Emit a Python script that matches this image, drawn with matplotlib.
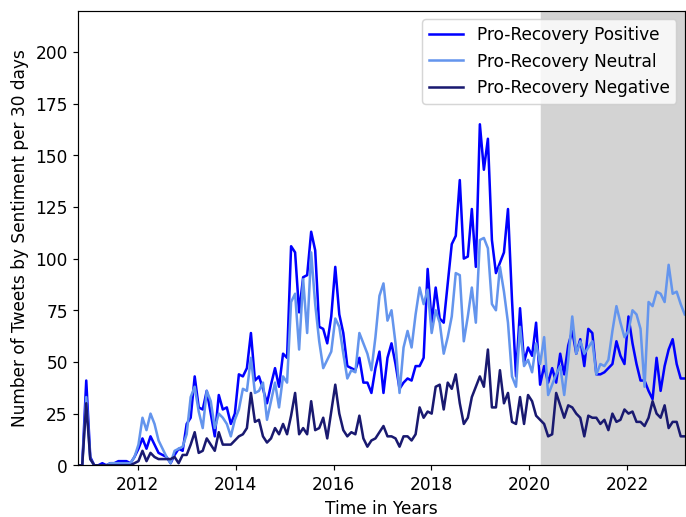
import numpy as np
import pandas as pd
import matplotlib
matplotlib.use("Agg")
import matplotlib.pyplot as plt
import matplotlib.dates as mdates

# tweet counts per 30-day bin, starting Oct 2010
START = "2010-10-12"
N_BINS = 152
RECOVERY_START = "2020-04-01"

positive = [
    0, 0, 41, 4, 0, 0, 1, 0, 1, 1,
    2, 2, 2, 1, 4, 8, 13, 8, 14, 10,
    6, 5, 4, 1, 5, 8, 7, 20, 23, 43,
    28, 27, 36, 25, 14, 34, 27, 28, 20, 25,
    44, 43, 47, 64, 41, 43, 37, 30, 39, 47,
    38, 54, 52, 106, 103, 74, 91, 92, 113, 104,
    67, 66, 59, 72, 96, 73, 64, 48, 47, 46,
    52, 40, 40, 35, 47, 55, 35, 52, 59, 49,
    37, 40, 42, 41, 48, 48, 52, 95, 69, 86,
    71, 69, 88, 107, 111, 138, 100, 101, 124, 96,
    165, 143, 158, 109, 93, 98, 103, 124, 80, 43,
    76, 50, 57, 53, 69, 39, 48, 40, 47, 40,
    54, 44, 58, 65, 54, 61, 48, 66, 64, 44,
    44, 45, 47, 49, 60, 53, 49, 72, 59, 49,
    41, 41, 36, 32, 52, 36, 48, 56, 61, 49,
    42, 42,
]

neutral = [
    0, 0, 33, 3, 0, 0, 0, 0, 1, 1,
    1, 1, 1, 1, 4, 10, 23, 17, 25, 20,
    12, 8, 4, 1, 7, 8, 9, 15, 33, 38,
    26, 18, 36, 31, 18, 25, 23, 20, 14, 22,
    27, 37, 36, 52, 35, 36, 40, 22, 31, 40,
    28, 43, 40, 79, 83, 56, 90, 64, 103, 78,
    60, 47, 51, 55, 71, 67, 54, 42, 46, 45,
    64, 59, 54, 46, 62, 82, 88, 70, 75, 59,
    35, 57, 65, 57, 73, 86, 78, 85, 64, 75,
    69, 54, 62, 72, 93, 92, 60, 72, 86, 69,
    109, 110, 105, 78, 75, 96, 84, 69, 43, 38,
    67, 48, 51, 45, 59, 49, 62, 34, 39, 44,
    48, 34, 51, 72, 54, 60, 54, 57, 60, 44,
    49, 48, 51, 65, 77, 69, 62, 65, 75, 73,
    66, 38, 79, 77, 84, 83, 79, 97, 83, 84,
    78, 73,
]

negative = [
    0, 0, 30, 3, 0, 0, 0, 0, 0, 0,
    0, 0, 0, 0, 1, 2, 7, 2, 6, 4,
    3, 3, 3, 3, 4, 1, 5, 5, 10, 16,
    6, 7, 13, 10, 7, 16, 10, 10, 10, 12,
    14, 15, 18, 35, 21, 22, 14, 11, 13, 18,
    15, 20, 15, 24, 35, 15, 18, 15, 31, 17,
    18, 23, 13, 26, 39, 25, 17, 14, 16, 15,
    24, 13, 9, 12, 13, 16, 19, 14, 14, 13,
    9, 14, 14, 12, 15, 28, 23, 26, 25, 38,
    39, 27, 40, 37, 44, 30, 20, 23, 33, 38,
    43, 38, 56, 28, 28, 46, 30, 35, 21, 20,
    33, 20, 34, 31, 24, 22, 20, 14, 15, 35,
    29, 23, 29, 28, 25, 23, 14, 24, 23, 23,
    20, 22, 17, 25, 21, 22, 27, 25, 26, 21,
    21, 19, 23, 31, 25, 23, 29, 18, 21, 21,
    14, 14,
]

dates = pd.date_range(START, periods=N_BINS, freq="30D")

plt.rcParams["font.size"] = 11.4
plt.rcParams["lines.linewidth"] = 1.7

fig, ax = plt.subplots(figsize=(6.4, 4.825), dpi=107.2)
fig.subplots_adjust(left=0.114, right=0.998, top=0.979, bottom=0.1)

ax.axvspan(pd.Timestamp(RECOVERY_START), dates[-1], color="lightgray", zorder=0)
ax.plot(dates, positive, color="blue", label="Pro-Recovery Positive")
ax.plot(dates, neutral, color="cornflowerblue", label="Pro-Recovery Neutral")
ax.plot(dates, negative, color="midnightblue", label="Pro-Recovery Negative")

ax.set_xlim(dates[0], dates[-1])
ax.set_ylim(0, 220)
ax.set_yticks(np.arange(0, 201, 25))
ax.xaxis.set_major_locator(mdates.YearLocator(2))
ax.xaxis.set_major_formatter(mdates.DateFormatter("%Y"))

ax.set_xlabel("Time in Years")
ax.set_ylabel("Number of Tweets by Sentiment per 30 days")
ax.legend(loc="upper right")

fig.savefig("out.png", dpi=107.2)
